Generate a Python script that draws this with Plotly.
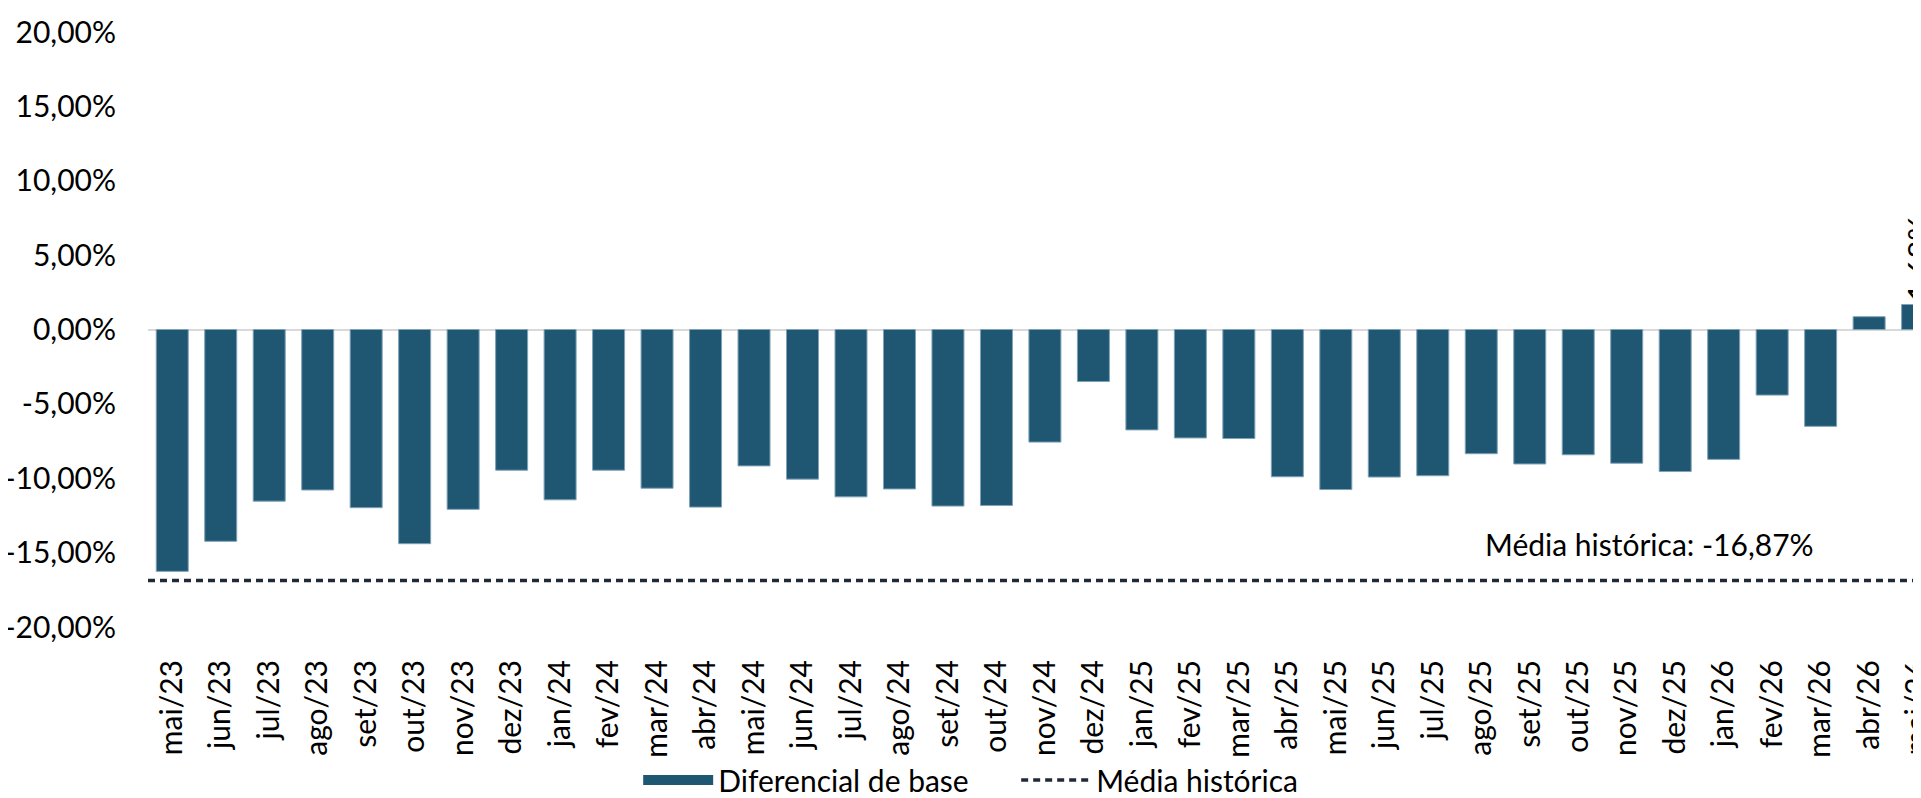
import plotly.graph_objects as go

meses = ['mai/23', 'jun/23', 'jul/23', 'ago/23', 'set/23', 'out/23', 'nov/23', 'dez/23',
         'jan/24', 'fev/24', 'mar/24', 'abr/24', 'mai/24', 'jun/24', 'jul/24', 'ago/24',
         'set/24', 'out/24', 'nov/24', 'dez/24', 'jan/25', 'fev/25', 'mar/25', 'abr/25',
         'mai/25', 'jun/25', 'jul/25', 'ago/25', 'set/25', 'out/25', 'nov/25', 'dez/25',
         'jan/26', 'fev/26', 'mar/26', 'abr/26', 'mai/26']

diferencial = [-16.26, -14.24, -11.54, -10.79, -11.98, -14.40, -12.09, -9.46,
               -11.45, -9.46, -10.67, -11.94, -9.17, -10.06, -11.25, -10.72,
               -11.87, -11.83, -7.57, -3.50, -6.75, -7.29, -7.33, -9.90,
               -10.76, -9.92, -9.83, -8.35, -9.04, -8.42, -8.99, -9.55,
               -8.73, -4.41, -6.51, 0.86, 1.68]

media_historica = -16.87

ytick_vals = [-20, -15, -10, -5, 0, 5, 10, 15, 20]


def pct(v):
    return f'{v:.2f}%'.replace('.', ',')


ytick_text = [pct(v) for v in ytick_vals]

FONT = 'Lato'
FS = 30
AZUL = '#1f5773'
ESCURO = '#1f2a36'
TRACO = dict(color=ESCURO, width=3.5, dash='7px,5px')

# rotulo so no ultimo ponto
rotulos = [''] * (len(diferencial) - 1) + [pct(diferencial[-1])]

fig = go.Figure()

fig.add_trace(go.Bar(
    x=meses, y=diferencial,
    marker=dict(color=AZUL, line=dict(color='#7ea2b7', width=1)),
    text=rotulos, textposition='outside', textangle=-90,
    textfont=dict(family=FONT, size=FS + 1, color='black'),
    constraintext='none',
    cliponaxis=True,
    showlegend=False,
    hoverinfo='x+y',
))

# media historica como linha horizontal pelo eixo inteiro
fig.add_hline(y=media_historica, line=TRACO)

# entradas da legenda
fig.add_trace(go.Scatter(x=[None], y=[None], mode='lines', name='Diferencial de base',
                         line=dict(color=AZUL, width=17), legendwidth=293))
fig.add_trace(go.Scatter(x=[None], y=[None], mode='lines', name='Média histórica',
                         line=TRACO))

fig.add_annotation(
    xref='paper', yref='y', x=0.847, y=media_historica,
    xanchor='center', yanchor='bottom', yshift=16,
    text='Média histórica: ' + pct(media_historica),
    showarrow=False, font=dict(family=FONT, size=FS, color='black'),
)

# a pagina desloca o grafico 8px para a direita, por isso largura 1913
fig.update_layout(
    width=1913, height=798,
    margin=dict(l=140, r=0, t=24, b=172),
    plot_bgcolor='white', paper_bgcolor='white',
    bargap=0.34,
    font=dict(family=FONT, size=FS, color='black'),
    xaxis=dict(
        type='category', range=[-0.5, 36.07], automargin=False,
        tickangle=-90, showgrid=False, showline=False, ticks='',
        ticklabelstandoff=26,
        tickfont=dict(family=FONT, size=FS),
    ),
    yaxis=dict(
        range=[-20, 20], tickvals=ytick_vals, ticktext=ytick_text, automargin=False,
        showgrid=False, showline=False, ticks='',
        zeroline=True, zerolinecolor='#d9d9d9', zerolinewidth=2,
        ticklabelstandoff=31,
        tickfont=dict(family=FONT, size=FS),
    ),
    legend=dict(
        orientation='h', x=0.464, xanchor='center', y=-0.257, yanchor='middle',
        font=dict(family=FONT, size=FS), itemwidth=70,
        bgcolor='rgba(0,0,0,0)',
    ),
)

fig.write_html('out.html')
